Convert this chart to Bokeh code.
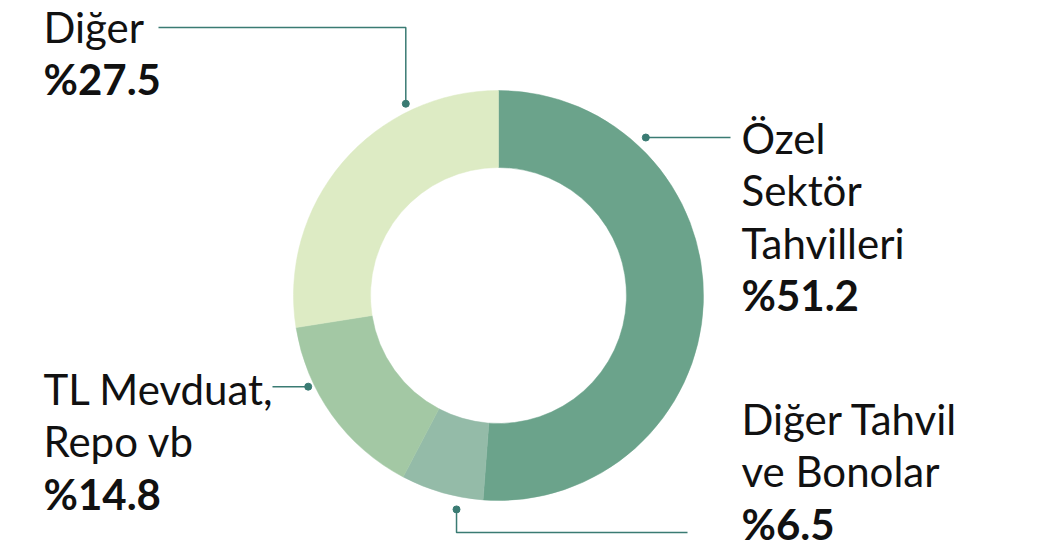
import math
from bokeh.plotting import figure
from bokeh.models import Range1d
from bokeh.core.properties import value
from bokeh.embed import file_html
from bokeh.resources import INLINE

# ---- data ----
categories = ["Özel Sektör Tahvilleri", "Diğer Tahvil ve Bonolar", "TL Mevduat, Repo vb", "Diğer"]
shares = [51.2, 6.5, 14.8, 27.5]
label_lines = [["Özel", "Sektör", "Tahvilleri"], ["Diğer Tahvil", "ve Bonolar"], ["TL Mevduat,", "Repo vb"], ["Diğer"]]
colors = ["#6ba38b", "#94bba8", "#a3c8a4", "#ddebc4"]

W, H = 1050, 552
p = figure(width=W, height=H, x_range=Range1d(0, W), y_range=Range1d(0, H),
           output_backend="svg", toolbar_location=None, min_border=0)
p.axis.visible = False
p.grid.visible = False
p.outline_line_color = None
p.background_fill_color = "white"

def Y(y):
    return H - y

cx, cy = 498, 295
r_in, r_out = 128, 205

total = sum(shares)
cum = 0.0
starts, ends = [], []
for s in shares:
    starts.append(math.pi / 2 - 2 * math.pi * cum / total)
    cum += s
    ends.append(math.pi / 2 - 2 * math.pi * cum / total)

p.annular_wedge(x=[cx] * 4, y=[Y(cy)] * 4, inner_radius=r_in, outer_radius=r_out,
                start_angle=starts, end_angle=ends, direction="clock",
                fill_color=colors, line_color=colors, line_width=0.5)

# ---- leader lines ----
lc = "#3a7b73"
dot_ang = [43.0, 191.1, 244.4, 334.2]
dot_r = [216, 218, 211, 213]
dx, dy = [], []
for a, r in zip(dot_ang, dot_r):
    t = math.radians(a)
    dx.append(cx + r * math.sin(t))
    dy.append(cy - r * math.cos(t))

p.line([dx[0], 730], [Y(dy[0]), Y(dy[0])], line_color=lc, line_width=1.5)
p.line([dx[1], dx[1], 687], [Y(dy[1]), Y(532), Y(532)], line_color=lc, line_width=1.5)
p.line([272, dx[2]], [Y(dy[2]), Y(dy[2])], line_color=lc, line_width=1.5)
p.line([dx[3], dx[3], 158], [Y(dy[3]), Y(27), Y(27)], line_color=lc, line_width=1.5)
p.scatter(dx, [Y(v) for v in dy], size=7, fill_color=lc, line_color=lc)

# ---- labels ----
font = value("Lato")
fs = "42px"
lh = 52.5
shift = -15
label_x = [741, 741, 43, 43]
first_base = [152, 433, 403, 41]
for i in range(4):
    ys = [first_base[i] + shift + k * lh for k in range(len(label_lines[i]))]
    p.text(x=[label_x[i]] * len(ys), y=[Y(v) for v in ys], text=label_lines[i],
           text_font=font, text_font_size=fs, text_color="#111111",
           text_baseline="alphabetic", text_align="left")
    yb = first_base[i] + shift + len(label_lines[i]) * lh
    p.text(x=[label_x[i]], y=[Y(yb)], text=["%" + str(shares[i])],
           text_font=font, text_font_size=fs, text_font_style="bold",
           text_color="#111111", text_baseline="alphabetic", text_align="left")

open("out.html", "w").write(file_html(p, INLINE))
